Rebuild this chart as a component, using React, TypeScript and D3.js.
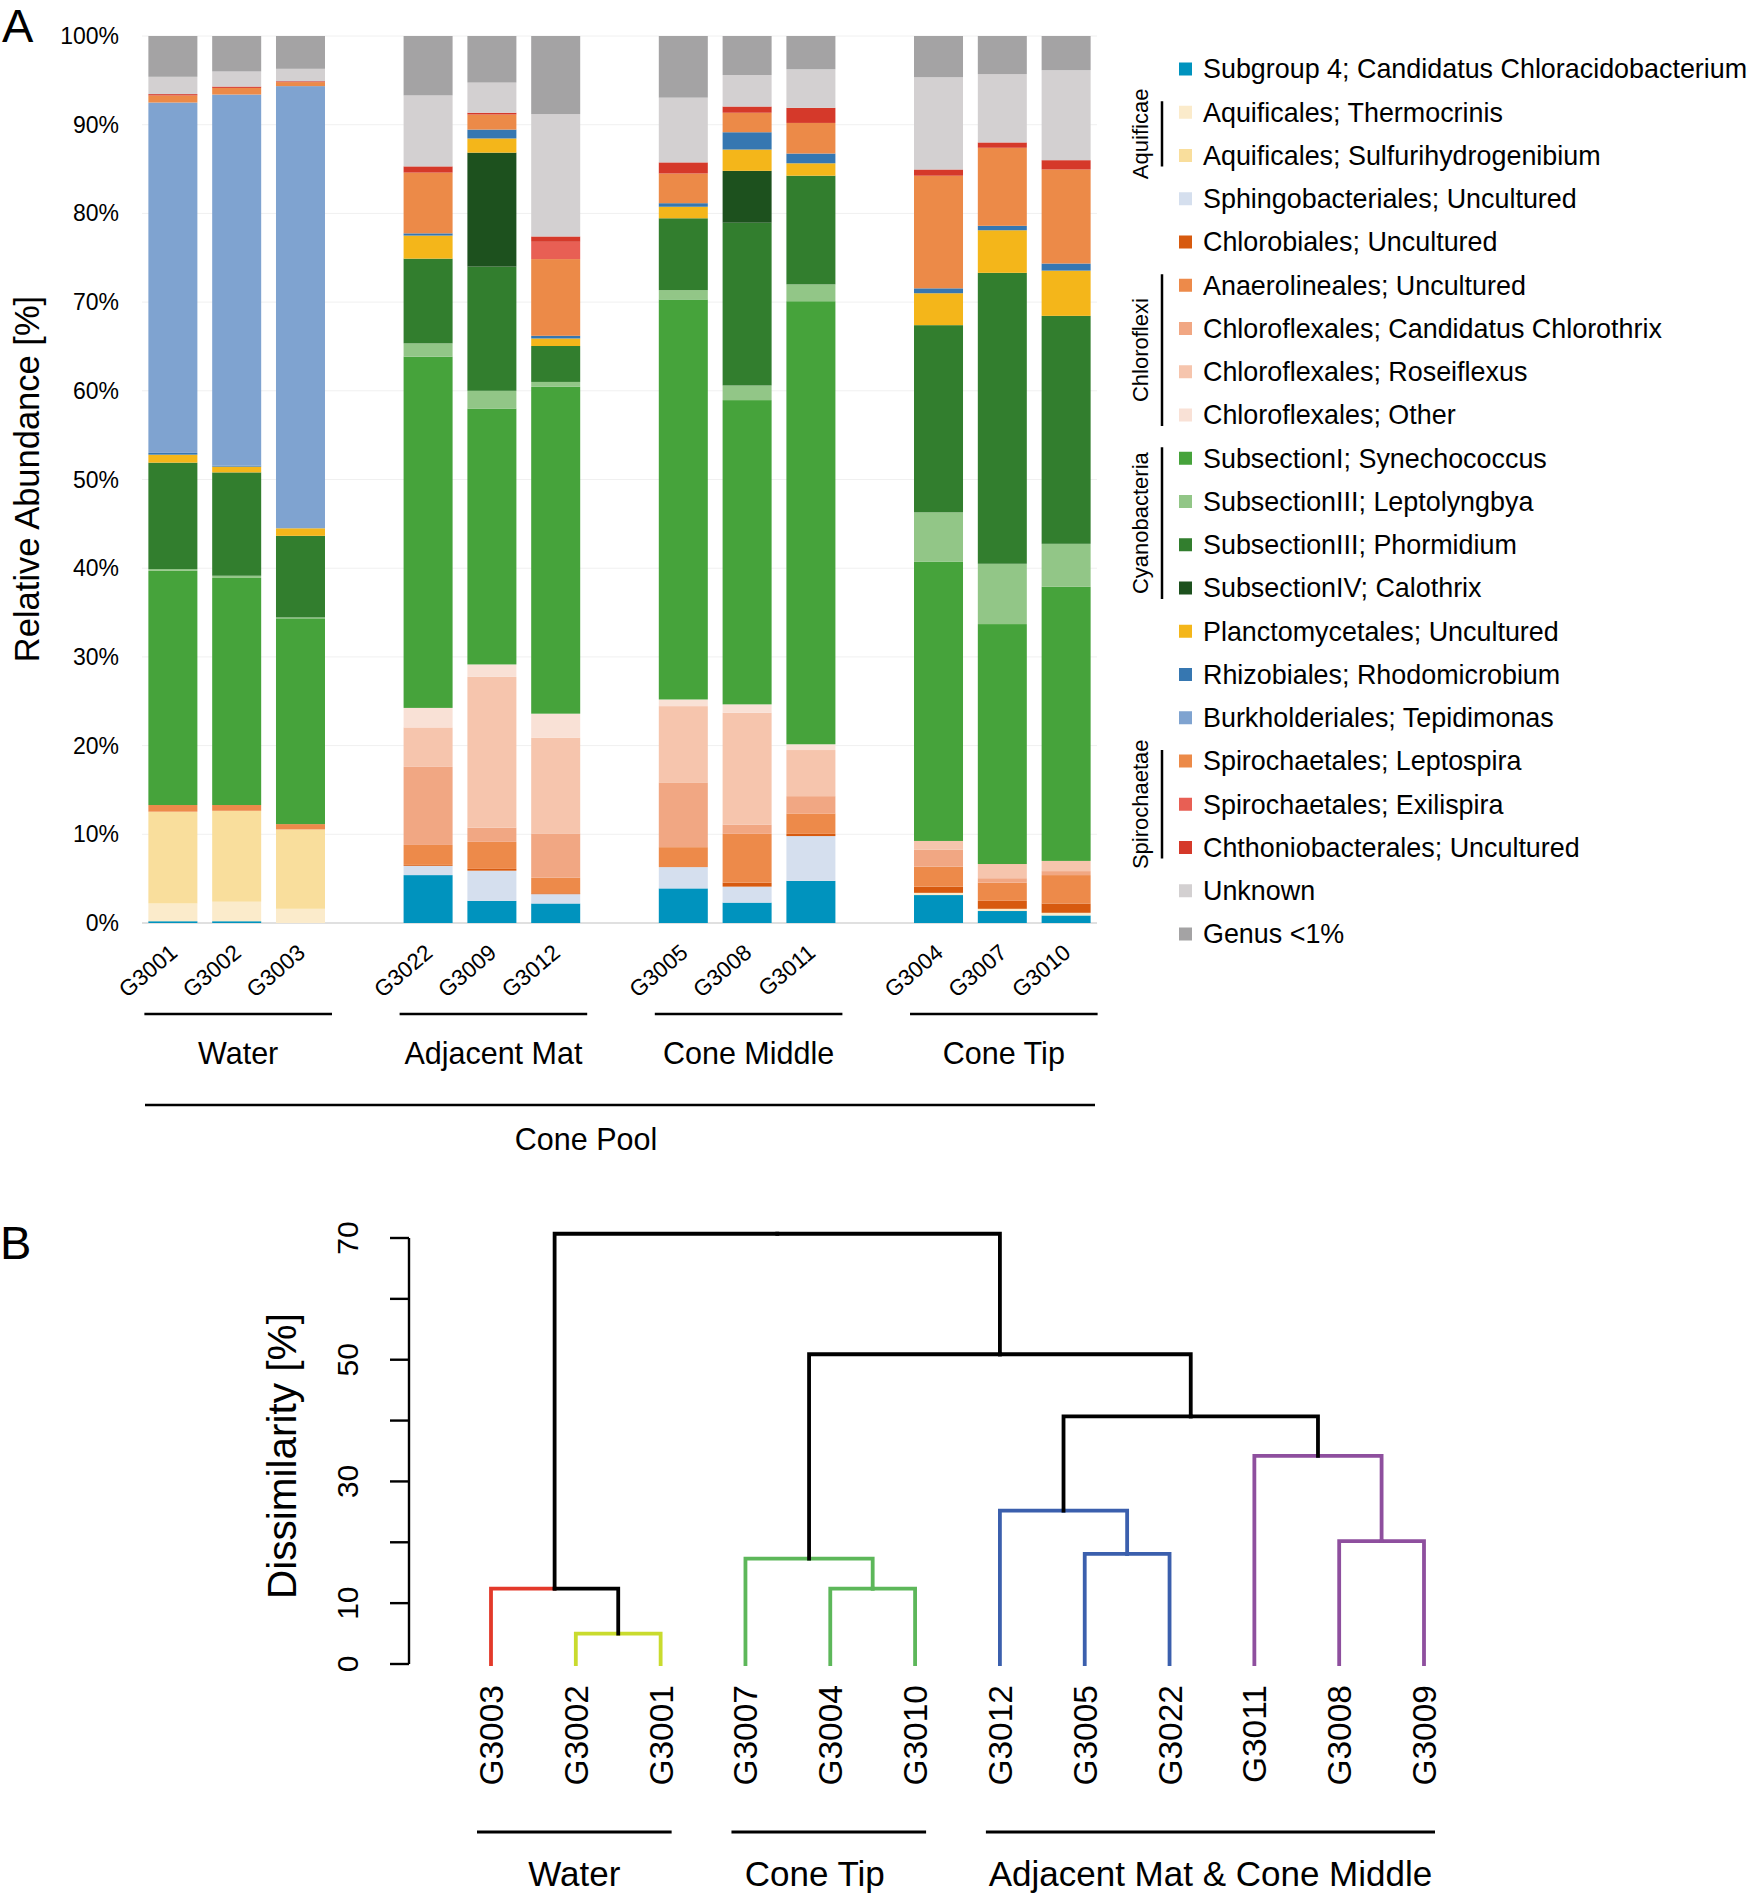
import React from "react";
import * as d3 from "d3";

// ---------- Panel A data ----------
const samples = ["G3001", "G3002", "G3003", "G3022", "G3009", "G3012", "G3005", "G3008", "G3011", "G3004", "G3007", "G3010"];
const slotOrder = ["G3001", "G3002", "G3003", "gap1", "G3022", "G3009", "G3012", "gap2", "G3005", "G3008", "G3011", "gap3", "G3004", "G3007", "G3010"];
const sampleGroups = ["Water", "Adjacent Mat", "Cone Middle", "Cone Tip"];
const groupMembers = [["G3001", "G3003"], ["G3022", "G3012"], ["G3005", "G3011"], ["G3004", "G3010"]];

const taxa = [
  "Subgroup 4; Candidatus Chloracidobacterium",
  "Aquificales; Thermocrinis",
  "Aquificales; Sulfurihydrogenibium",
  "Sphingobacteriales; Uncultured",
  "Chlorobiales; Uncultured",
  "Anaerolineales; Uncultured",
  "Chloroflexales; Candidatus Chlorothrix",
  "Chloroflexales; Roseiflexus",
  "Chloroflexales; Other",
  "SubsectionI; Synechococcus",
  "SubsectionIII; Leptolyngbya",
  "SubsectionIII; Phormidium",
  "SubsectionIV; Calothrix",
  "Planctomycetales; Uncultured",
  "Rhizobiales; Rhodomicrobium",
  "Burkholderiales; Tepidimonas",
  "Spirochaetales; Leptospira",
  "Spirochaetales; Exilispira",
  "Chthoniobacterales; Uncultured",
  "Unknown",
  "Genus <1%",
];
const taxaColors = [
  "#0093BE", "#FBEBCB", "#F9DE9C", "#D5DFEE", "#D75A0F", "#ED8A4A", "#F1A783", "#F6C5AD", "#F9E1D6",
  "#46A33B", "#92C687", "#327E2E", "#1D511E", "#F4B61A", "#3677B1", "#7FA3D0", "#EC8A48", "#E85F54",
  "#D5392A", "#D3D0D1", "#A4A3A4",
];

// values in sample order (G3001 ... G3010), percent
const subgroup4 = [0.2, 0.2, 0, 5.4, 2.5, 2.2, 3.9, 2.3, 4.75, 3.15, 1.35, 0.85];
const thermocrinis = [2.0, 2.2, 1.6, 0, 0, 0, 0, 0, 0, 0.25, 0.25, 0.3];
const sulfurihydrogenibium = [10.35, 10.25, 8.95, 0, 0, 0, 0, 0, 0, 0, 0, 0];
const sphingobacteriales = [0, 0, 0, 1.05, 3.4, 1.05, 2.4, 1.8, 5.05, 0, 0, 0];
const chlorobiales = [0, 0, 0, 0.1, 0.2, 0.1, 0, 0.45, 0.25, 0.7, 0.9, 1.05];
const anaerolineales = [0.75, 0.65, 0.6, 2.25, 3.05, 1.75, 2.25, 5.5, 2.3, 2.25, 2.05, 3.2];
const chlorothrix = [0, 0, 0, 8.8, 1.6, 5.0, 7.3, 1.05, 1.95, 1.9, 0.5, 0.45];
const roseiflexus = [0, 0, 0, 4.45, 17.0, 10.8, 8.6, 12.6, 5.2, 1.0, 1.6, 1.15];
const chloroflexalesOther = [0, 0, 0, 2.2, 1.4, 2.7, 0.75, 0.95, 0.65, 0, 0, 0];
const synechococcus = [26.4, 25.6, 23.2, 39.6, 28.85, 36.85, 45.1, 34.3, 49.95, 31.5, 27.05, 30.9];
const leptolyngbya = [0.2, 0.25, 0.1, 1.5, 2.0, 0.55, 1.05, 1.65, 1.9, 5.55, 6.8, 4.85];
const phormidium = [12.0, 11.65, 9.2, 9.55, 14.0, 4.05, 8.1, 18.35, 12.25, 21.1, 32.8, 25.7];
const calothrix = [0, 0, 0, 0, 12.85, 0, 0, 5.85, 0, 0, 0, 0];
const planctomycetales = [0.9, 0.65, 0.85, 2.6, 1.6, 0.85, 1.3, 2.4, 1.4, 3.6, 4.8, 5.1];
const rhizobiales = [0.2, 0.1, 0, 0.25, 1.0, 0.3, 0.4, 1.95, 1.1, 0.55, 0.5, 0.8];
const tepidimonas = [39.5, 41.85, 49.85, 0, 0, 0, 0, 0, 0, 0, 0, 0];
const leptospira = [0.8, 0.75, 0.45, 6.85, 1.7, 8.65, 3.35, 2.2, 3.45, 12.7, 8.8, 10.6];
const exilispira = [0, 0, 0, 0, 0, 1.95, 0, 0, 0, 0, 0, 0];
const chthoniobacterales = [0.15, 0.15, 0.1, 0.7, 0.2, 0.6, 1.25, 0.7, 1.7, 0.7, 0.6, 1.05];
const unknown = [1.95, 1.7, 1.4, 8.0, 3.4, 13.8, 7.3, 3.55, 4.35, 10.4, 7.7, 10.15];
const genusLt1 = [4.6, 4.0, 3.7, 6.7, 5.25, 8.8, 6.95, 4.4, 3.75, 4.65, 4.3, 3.85];

const abundance = [
  subgroup4, thermocrinis, sulfurihydrogenibium, sphingobacteriales, chlorobiales, anaerolineales,
  chlorothrix, roseiflexus, chloroflexalesOther, synechococcus, leptolyngbya, phormidium, calothrix,
  planctomycetales, rhizobiales, tepidimonas, leptospira, exilispira, chthoniobacterales, unknown, genusLt1,
];
const yTicksA = [0, 10, 20, 30, 40, 50, 60, 70, 80, 90, 100];

const phylumBrackets = [
  { name: "Aquificae", from: 1, to: 2 },
  { name: "Chloroflexi", from: 5, to: 8 },
  { name: "Cyanobacteria", from: 9, to: 12 },
  { name: "Spirochaetae", from: 16, to: 18 },
];

// ---------- Panel B data (dendrogram) ----------
const leafOrder = ["G3003", "G3002", "G3001", "G3007", "G3004", "G3010", "G3012", "G3005", "G3022", "G3011", "G3008", "G3009"];
const leafColors = ["#E3392A", "#C9DB2E", "#C9DB2E", "#5DB75A", "#5DB75A", "#5DB75A", "#3B5FAD", "#3B5FAD", "#3B5FAD", "#8E4F9E", "#8E4F9E", "#8E4F9E"];
const nodeIds = ["n1", "n2", "n3", "n4", "n5", "n6", "n7", "n8", "n9", "n10", "n11"];
const nodeLeft = ["G3002", "G3003", "G3004", "G3007", "G3005", "G3012", "G3008", "G3011", "n6", "n4", "n2"];
const nodeRight = ["G3001", "n1", "G3010", "n3", "G3022", "n5", "G3009", "n7", "n8", "n9", "n10"];
const nodeHeights = [5.0, 12.4, 12.4, 17.3, 18.1, 25.2, 20.2, 34.2, 40.7, 50.9, 70.7];
const nodeEdgeColors = ["#000", "#000", "#5DB75A", "#000", "#3B5FAD", "#000", "#8E4F9E", "#000", "#000", "#000", "#000"];
const yTicksB = [0, 10, 20, 30, 40, 50, 60, 70];
const yTickLabelsB = [0, 10, 30, 50, 70];
const dendroGroups = [
  { name: "Water", from: "G3003", to: "G3001", shift: 0 },
  { name: "Cone Tip", from: "G3007", to: "G3010", shift: -14 },
  { name: "Adjacent Mat & Cone Middle", from: "G3012", to: "G3009", shift: 0 },
];

const FONT = "'Liberation Sans', Arial, Helvetica, sans-serif";

export default function App() {
  React.useEffect(() => {
    document.body.style.margin = "0";
  }, []);

  // Panel A scales
  const x = d3.scaleBand<string>().domain(slotOrder).range([142, 1097]).paddingInner(0.232).paddingOuter(0.1);
  const bw = x.bandwidth();
  const y = d3.scaleLinear().domain([0, 100]).range([923, 36]);

  const rows = samples.map((s, i) => {
    const o: any = { sample: s };
    taxa.forEach((t, j) => (o[t] = abundance[j][i]));
    return o;
  });
  const series = d3.stack<any>().keys(taxa)(rows);

  // Panel B scales
  const xl = d3.scalePoint<string>().domain(leafOrder).range([491, 1424]);
  const yd = d3.scaleLinear().domain([0, 70]).range([1664, 1238]);

  const pos: Record<string, { x: number; h: number; color: string }> = {};
  leafOrder.forEach((l, i) => (pos[l] = { x: xl(l)!, h: 0, color: leafColors[i] }));
  nodeIds.forEach((id, i) => {
    const L = pos[nodeLeft[i]];
    const R = pos[nodeRight[i]];
    pos[id] = { x: (L.x + R.x) / 2, h: nodeHeights[i], color: nodeEdgeColors[i] };
  });
  const edges: { d: string; color: string }[] = [];
  nodeIds.forEach((id, i) => {
    const P = pos[id];
    [nodeLeft[i], nodeRight[i]].forEach((c) => {
      const C = pos[c];
      const path = d3.path();
      path.moveTo(C.x, yd(C.h));
      path.lineTo(C.x, yd(P.h));
      path.lineTo(P.x, yd(P.h));
      edges.push({ d: path.toString(), color: C.color });
    });
  });

  const legendY = (i: number) => 69 + i * 43.25;

  return (
    <svg
      width={1750}
      height={1897}
      viewBox="0 0 1750 1897"
      style={{ display: "block", position: "absolute", left: 0, top: 0, background: "#fff" }}
      fontFamily={FONT}
    >
      <rect x={0} y={0} width={1750} height={1897} fill="#fff" />
      {/* Panel label A */}
      <text x={2} y={42} fontSize={47} fill="#000">A</text>

      {/* gridlines */}
      {yTicksA.map((t) => (
        <line key={t} x1={142} x2={1097} y1={y(t)} y2={y(t)} stroke={t === 0 ? "#d6d6d6" : "#f0f0f0"} strokeWidth={t === 0 ? 1.5 : 1} />
      ))}
      {yTicksA.map((t) => (
        <text key={"l" + t} x={119} y={y(t)} dy="0.35em" textAnchor="end" fontSize={23} fill="#000">
          {t}%
        </text>
      ))}
      <text transform={`translate(39,479) rotate(-90)`} textAnchor="middle" fontSize={34.5} fill="#000">
        Relative Abundance [%]
      </text>

      {/* stacked bars */}
      {series.map((s, j) => (
        <g key={j} fill={taxaColors[j]}>
          {s.map((d: any, i: number) =>
            d[1] - d[0] > 0 ? (
              <rect key={i} x={x(samples[i])} width={bw} y={y(d[1])} height={y(d[0]) - y(d[1])} />
            ) : null
          )}
        </g>
      ))}

      {/* sample labels */}
      {samples.map((s) => (
        <text
          key={s}
          transform={`translate(${x(s)! + bw / 2 + 6},955) rotate(-40)`}
          textAnchor="end"
          fontSize={22.5}
          fill="#000"
        >
          {s}
        </text>
      ))}

      {/* group lines */}
      {sampleGroups.map((g, i) => {
        const x1 = x(groupMembers[i][0])! - 4;
        const x2 = x(groupMembers[i][1])! + bw + 7;
        return (
          <g key={g}>
            <line x1={x1} x2={x2} y1={1014} y2={1014} stroke="#000" strokeWidth={2.5} />
            <text x={(x1 + x2) / 2} y={1064} textAnchor="middle" fontSize={30.5} fill="#000">
              {g}
            </text>
          </g>
        );
      })}
      <line x1={145} x2={1095} y1={1105} y2={1105} stroke="#000" strokeWidth={2.5} />
      <text x={586} y={1150} textAnchor="middle" fontSize={30.5} fill="#000">Cone Pool</text>

      {/* legend */}
      {taxa.map((t, i) => (
        <g key={t}>
          <rect x={1179} y={legendY(i) - 6.5} width={13} height={13} fill={taxaColors[i]} />
          <text x={1203} y={legendY(i)} dy="0.35em" fontSize={26.9} fill="#000">
            {t}
          </text>
        </g>
      ))}
      {phylumBrackets.map((b) => {
        const y1 = legendY(b.from) - 11;
        const y2 = legendY(b.to) + 11;
        return (
          <g key={b.name}>
            <line x1={1162} x2={1162} y1={y1} y2={y2} stroke="#000" strokeWidth={2.5} />
            <text transform={`translate(1148,${(y1 + y2) / 2}) rotate(-90)`} textAnchor="middle" fontSize={22} fill="#000">
              {b.name}
            </text>
          </g>
        );
      })}

      {/* Panel B */}
      <text x={0} y={1259} fontSize={47} fill="#000">B</text>
      <line x1={409} x2={409} y1={yd(0)} y2={yd(70)} stroke="#000" strokeWidth={2.4} />
      {yTicksB.map((t) => (
        <line key={t} x1={390} x2={409} y1={yd(t)} y2={yd(t)} stroke="#000" strokeWidth={2.4} />
      ))}
      {yTickLabelsB.map((t) => (
        <text key={t} transform={`translate(358,${yd(t)}) rotate(-90)`} textAnchor="middle" fontSize={30} fill="#000">
          {t}
        </text>
      ))}
      <text transform={`translate(296,1456) rotate(-90)`} textAnchor="middle" fontSize={40.5} fill="#000">
        Dissimilarity [%]
      </text>

      {edges.map((e, i) => (
        <path key={i} d={e.d} fill="none" stroke={e.color} strokeWidth={3.8} strokeLinecap="square" />
      ))}

      {leafOrder.map((l) => (
        <text key={l} transform={`translate(${xl(l)! + 12},1685) rotate(-90)`} textAnchor="end" fontSize={33.5} fill="#000">
          {l}
        </text>
      ))}

      {dendroGroups.map((g) => {
        const x1 = xl(g.from)! - 14;
        const x2 = xl(g.to)! + 11;
        return (
          <g key={g.name}>
            <line x1={x1} x2={x2} y1={1832} y2={1832} stroke="#000" strokeWidth={3.2} />
            <text x={(x1 + x2) / 2 + g.shift} y={1886} textAnchor="middle" fontSize={35} fill="#000">
              {g.name}
            </text>
          </g>
        );
      })}
    </svg>
  );
}
